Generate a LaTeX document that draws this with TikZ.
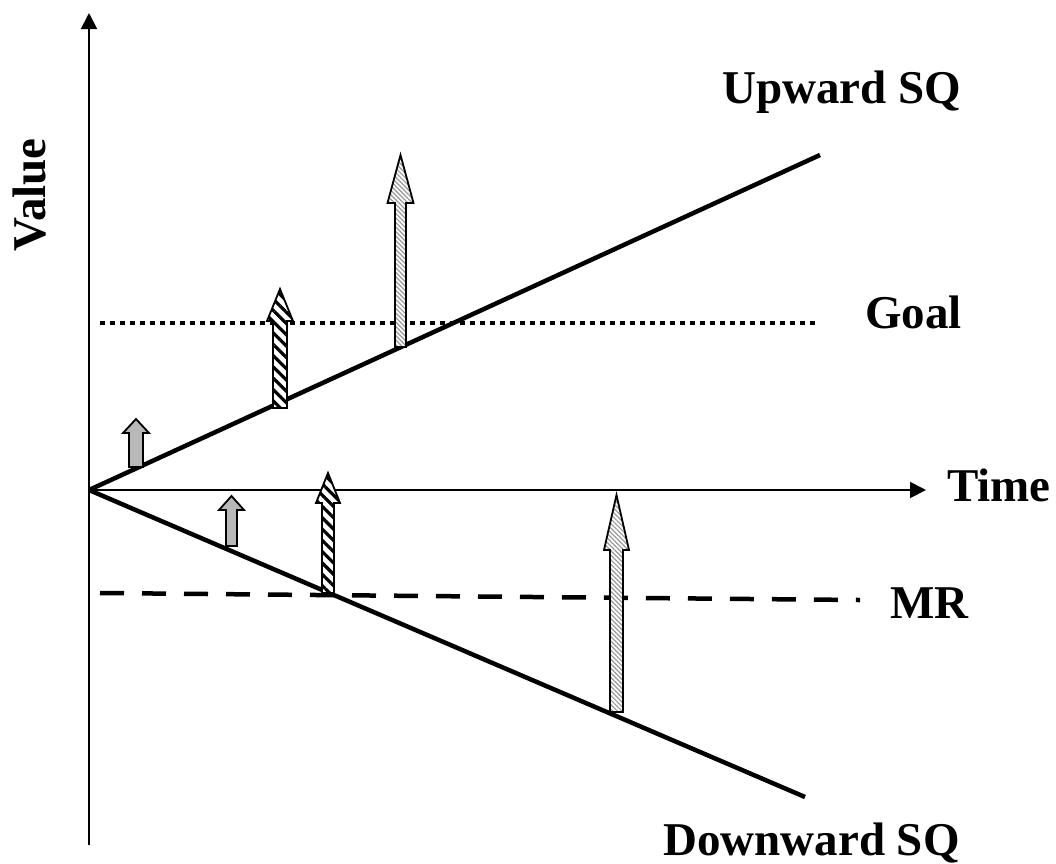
\documentclass[tikz,border=0pt]{standalone}
\usepackage{fontspec}
\setmainfont{Liberation Serif}
\usetikzlibrary{arrows.meta,patterns.meta}
\tikzset{
  axis/.style={line width=1.8pt,-{Triangle[length=16pt,width=16pt]}},
  sqline/.style={line width=4.5pt},
  goalline/.style={line width=4pt,dash pattern=on 5pt off 5pt},
  mrline/.style={line width=4.5pt,dash pattern=on 24pt off 18pt},
  lbl/.style={font=\bfseries\fontsize{47}{50}\selectfont,inner sep=0pt},
  arr/.style={draw=black,line width=1.8pt,line join=miter},
  grayarr/.style={arr,fill=black!28},
  darkhatch/.style={arr,preaction={fill=white},pattern={Lines[angle=-45,distance=8pt,line width=3.2pt]}},
  lighthatch/.style={arr,preaction={fill=white},pattern={Lines[angle=-45,distance=3.2pt,line width=1.2pt]},pattern color=black!40},
}
% \uparr{style}{x}{ybottom}{yheadbase}{ytip}{shaft half}{head half}
\newcommand{\uparr}[7]{%
  \draw[#1] (#2-#6,#3) -- (#2-#6,#4) -- (#2-#7,#4) -- (#2,#5) -- (#2+#7,#4) -- (#2+#6,#4) -- (#2+#6,#3) -- cycle;}
\begin{document}
\begin{tikzpicture}[x=1pt,y=-1pt]
\useasboundingbox (0,0) rectangle (1056,863);
% coordinates
\coordinate (O) at (89,490);
\coordinate (ybot) at (89,845);
\coordinate (ytop) at (89,13);
\coordinate (xend) at (926,490);
\coordinate (up) at (820,155);
\coordinate (down) at (805,797);
\coordinate (g1) at (100,323);
\coordinate (g2) at (815,323);
\coordinate (m1) at (100,593);
\coordinate (m2) at (860,600);
% axes
\draw[axis] (ybot) -- (ytop);
\draw[axis] (O) -- (xend);
% reference lines
\draw[goalline] (g1) -- (g2);
\draw[mrline] (m1) -- (m2);
% status quo lines
\draw[sqline] (O) -- (up);
\draw[sqline] (O) -- (down);
% arrows
\uparr{grayarr}{136}{467}{433}{419}{7}{13}
\uparr{darkhatch}{280}{408}{321}{289}{7}{13}
\uparr{lighthatch}{400.5}{347}{203}{155}{5.5}{13}
\uparr{grayarr}{231.5}{546}{510}{496}{5.5}{12.5}
\uparr{darkhatch}{328}{593}{503}{473}{6}{12}
\uparr{lighthatch}{616.5}{712}{550}{495}{6.5}{12.5}
% labels
\node[lbl,anchor=base west] (lup) at (722,103) {Upward SQ};
\node[lbl,anchor=base west] (lgoal) at (865,328) {Goal};
\node[lbl,anchor=base west] (ltime) at (947,501) {Time};
\node[lbl,anchor=base west] (lmr) at (890,618) {MR};
\node[lbl,anchor=base west] (ldown) at (663,855) {Downward SQ};
\node[lbl,rotate=90] (lval) at (30,195) {Value};
\end{tikzpicture}
\end{document}
